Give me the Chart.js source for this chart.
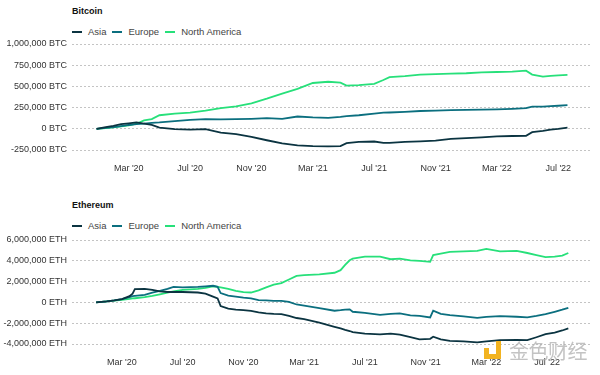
<!DOCTYPE html>
<html>
<head>
<meta charset="utf-8">
<script src="https://cdn.jsdelivr.net/npm/chart.js@4.4.0/dist/chart.umd.min.js"></script>
<style>
  body { margin: 0; background: #fff; font-family: "Liberation Sans", Arial, sans-serif; }
  .wrap { position: relative; width: 600px; height: 375px; overflow: hidden; }
  .box { position: absolute; left: 0; width: 600px; }
  .title { position: absolute; left: 72px; font-size: 9px; font-weight: bold; color: #111; }
  .legend { position: absolute; left: 72px; font-size: 9.5px; color: #444; display: flex; align-items: center; }
  .legend span.sw { display: inline-block; width: 10px; height: 2px; margin-right: 6px; }
  .legend span.lb { margin-right: 6px; }
  .wm { position: absolute; left: 509px; top: 336px; font-family: "Noto Sans CJK SC", sans-serif; font-size: 20px; color: rgba(175,175,175,0.75); letter-spacing: -0.5px; }
  .logo { position: absolute; left: 484px; top: 341px; width: 12px; height: 13px; border-right: 5px solid #f2b320; border-bottom: 5px solid #f2b320; }
  .logo2 { position: absolute; left: 484px; top: 348px; width: 5px; height: 6px; background: #f2b320; }
</style>
</head>
<body>
<div class="wrap">
  <div class="title" style="top:6px">Bitcoin</div>
  <div class="legend" style="top:26px" id="leg1"></div>
  <div class="box" style="top:0;height:190px"><canvas id="btcChart"></canvas></div>

  <div class="title" style="top:200px">Ethereum</div>
  <div class="legend" style="top:220px" id="leg2"></div>
  <div class="box" style="top:190px;height:185px"><canvas id="ethChart"></canvas></div>

  <div class="logo"></div><div class="logo2"></div>
  <div class="wm">金色财经</div>
</div>
<script>
// x values are months since Jan 2020
const regions = ['Asia', 'Europe', 'North America'];
const regionColors = ['#0b3441', '#0b6f7f', '#27e07a'];
const tickMonths = [2, 6, 10, 14, 18, 22, 26, 30];
const tickLabels = ["Mar '20", "Jul '20", "Nov '20", "Mar '21", "Jul '21", "Nov '21", "Mar '22", "Jul '22"];

const btcMonths = [-0.1, 0.5, 1, 1.5, 2, 2.5, 3, 3.5, 4, 5, 6, 7, 8, 9, 10, 11, 12, 13, 14, 15, 15.8, 16.2, 17, 18, 18.6, 19, 20, 21, 22, 23, 24, 25, 26, 27, 27.9, 28.3, 29, 29.5, 30, 30.6];
const btcAsia = [0, 20, 35, 55, 65, 75, 60, 45, 15, -5, -10, -5, -45, -62, -95, -135, -172, -195, -205, -207, -205, -170, -155, -150, -165, -165, -155, -148, -140, -120, -110, -100, -90, -85, -82, -40, -25, -10, 0, 15];
const btcEurope = [0, 10, 20, 32, 45, 55, 60, 70, 75, 90, 105, 115, 112, 115, 118, 125, 118, 145, 135, 130, 140, 150, 160, 180, 190, 192, 200, 210, 215, 220, 222, 225, 230, 235, 243, 262, 262, 268, 272, 278];
const btcNorthAmerica = [0, 8, 18, 28, 40, 60, 100, 115, 160, 180, 190, 215, 245, 265, 300, 355, 415, 470, 540, 555, 545, 510, 515, 530, 575, 610, 620, 640, 645, 650, 655, 665, 670, 675, 685, 640, 615, 625, 630, 635];

const ethMonths = [0.3, 1, 1.5, 2, 2.5, 2.7, 2.85, 3.5, 4, 4.5, 5, 5.4, 6, 7, 7.5, 8, 8.3, 8.5, 9, 9.5, 10, 10.5, 11, 11.5, 12, 12.5, 13, 13.5, 14, 15, 16, 16.4, 16.7, 17, 17.2, 18, 19, 19.7, 20.3, 21, 21.6, 22.3, 22.5, 23, 23.6, 24.5, 25.4, 26, 26.9, 28, 28.7, 29.3, 29.9, 30.5, 31, 31.4];
const ethAsia = [0, 0.1, 0.2, 0.32, 0.6, 0.85, 1.28, 1.3, 1.2, 1.05, 1.0, 1.02, 1.0, 0.95, 0.85, 0.55, 0.38, -0.35, -0.6, -0.7, -0.75, -0.82, -0.95, -1.05, -1.1, -1.12, -1.3, -1.5, -1.6, -1.95, -2.35, -2.5, -2.65, -2.75, -2.85, -3.0, -3.08, -3.0, -3.1, -3.35, -3.55, -3.5, -3.3, -3.55, -3.69, -3.75, -3.85, -3.75, -3.63, -3.6, -3.63, -3.35, -3.05, -2.9, -2.7, -2.5];
const ethEurope = [0, 0.1, 0.2, 0.32, 0.5, 0.6, 0.62, 0.72, 0.95, 1.1, 1.3, 1.5, 1.45, 1.5, 1.55, 1.6, 1.5, 0.9, 0.65, 0.55, 0.45, 0.38, 0.22, 0.2, 0.15, 0.15, 0.05, -0.2, -0.3, -0.55, -0.8, -0.75, -0.7, -0.67, -0.9, -1.0, -1.2, -1.1, -1.05, -1.25, -1.3, -1.45, -0.8, -1.1, -1.22, -1.35, -1.48, -1.4, -1.32, -1.38, -1.44, -1.3, -1.12, -0.9, -0.7, -0.52];
const ethNorthAmerica = [0, 0.1, 0.18, 0.25, 0.33, 0.38, 0.4, 0.5, 0.62, 0.78, 0.95, 1.05, 1.2, 1.3, 1.4, 1.55, 1.5, 1.45, 1.3, 1.1, 0.98, 0.95, 1.15, 1.45, 1.7, 1.85, 2.2, 2.55, 2.62, 2.7, 2.85, 3.1, 3.6, 4.05, 4.2, 4.4, 4.4, 4.15, 4.2, 4.05, 4.0, 3.9, 4.55, 4.7, 4.85, 4.9, 4.95, 5.15, 4.9, 4.95, 4.75, 4.55, 4.35, 4.4, 4.5, 4.75];

function buildLegend(id) {
    const el = document.getElementById(id);
    regions.forEach((r, i) => {
        el.innerHTML += '<span class="sw" style="background:' + regionColors[i] + '"></span><span class="lb">' + r + '</span>';
    });
}
buildLegend('leg1');
buildLegend('leg2');

function series(months, values, scale) {
    return months.map((m, i) => ({ x: m, y: values[i] * scale }));
}

function makeChart(canvasId, months, seriesList, scale, unit, opts) {
    const ctx = document.getElementById(canvasId).getContext('2d');
    return new Chart(ctx, {
        type: 'line',
        data: {
            datasets: seriesList.map((vals, i) => ({
                label: regions[i],
                data: series(months, vals, scale),
                borderColor: regionColors[i],
                borderWidth: 1.8,
                pointRadius: 0,
                tension: 0,
                fill: false
            }))
        },
        options: {
            responsive: true,
            maintainAspectRatio: false,
            animation: false,
            layout: { padding: { top: opts.top, left: 0, right: 8, bottom: opts.bottom } },
            plugins: { legend: { display: false }, tooltip: { enabled: false } },
            scales: {
                x: {
                    type: 'linear',
                    min: opts.xmin,
                    max: opts.xmax,
                    grid: { display: false },
                    border: { display: false },
                    afterBuildTicks: axis => { axis.ticks = tickMonths.map(v => ({ value: v })); },
                    afterFit: axis => { axis.height = 30; },
                    ticks: {
                        padding: 5,
                        maxRotation: 0,
                        autoSkip: false,
                        color: '#333',
                        font: { family: '"Liberation Sans", Arial, sans-serif', size: 9 },
                        callback: v => tickLabels[tickMonths.indexOf(v)]
                    }
                },
                y: {
                    min: opts.ymin,
                    max: opts.ymax,
                    afterBuildTicks: axis => {
                        const t = [];
                        for (let v = opts.ymin; v <= opts.ymax + 1; v += opts.step) t.push({ value: v });
                        axis.ticks = t;
                    },
                    afterFit: axis => { axis.width = 72; },
                    grid: { color: '#c4c4c4', lineWidth: 1, drawTicks: false },
                    border: { display: false, dash: [2, 2] },
                    ticks: {
                        padding: 5,
                        color: '#333',
                        font: { family: '"Liberation Sans", Arial, sans-serif', size: 9 },
                        callback: v => (Math.round(v) % opts.labelStep === 0) ? v.toLocaleString('en-US') + ' ' + unit : ''
                    }
                }
            }
        }
    });
}

makeChart('btcChart', btcMonths, [btcAsia, btcEurope, btcNorthAmerica], 1000, 'BTC',
    { top: 44, bottom: 10, xmin: -1.7, xmax: 32.2, ymin: -250000, ymax: 1000000, step: 125000, labelStep: 250000 });
makeChart('ethChart', ethMonths, [ethAsia, ethEurope, ethNorthAmerica], 1000000, 'ETH',
    { top: 50, bottom: 1, xmin: -1.29, xmax: 32.96, ymin: -4000000, ymax: 6000000, step: 1000000, labelStep: 2000000 });
</script>
</body>
</html>
